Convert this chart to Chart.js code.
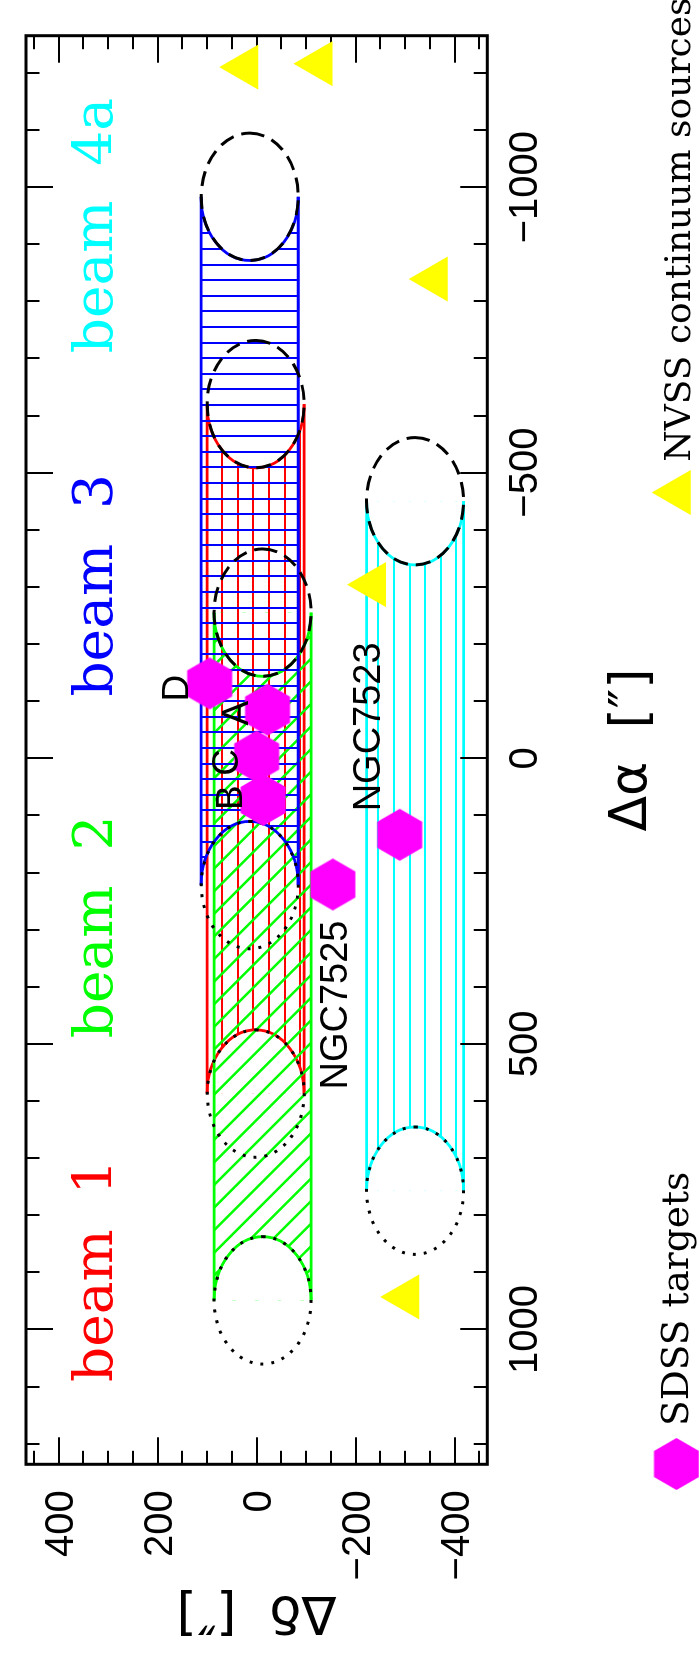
<!DOCTYPE html>
<html lang="en">
<head>
<meta charset="UTF-8" />
<title>beam coverage</title>
<style>
  html, body { margin: 0; padding: 0; background: #fff; }
  #wrap { position: relative; width: 699px; height: 1656px; overflow: hidden; }
  /* plot is drawn landscape, then turned a quarter left like the original page */
  #beams { position: absolute; left: 0; top: 0; transform-origin: 0 0; transform: translateY(1656px) rotate(-90deg); }
</style>
</head>
<body>
<div id="wrap"><canvas id="beams" width="1656" height="699"></canvas></div>
<script src="https://cdn.jsdelivr.net/npm/chart.js"></script>
<script>
// beams: centre dec and start / end RA offset of each drift ["]
const beamNames = ["beam  1", "beam  2", "beam  3", "beam  4a"];
const beamDec = [2, -12, 14, -320];
const beamRaStart = [587, 949, 222, 757];
const beamRaEnd = [-620, -255, -983, -450];
const beamRadiusRa = 111.5;
const beamRadiusDec = 98;
const beamLabelRa = [1092, 490, -108, -709];
const beamLabelDec = 293;

// SDSS targets
const sdssNames = ["D", "A", "C", "B", "NGC7525", "NGC7523"];
const sdssRa = [-131, -85, -3, 73, 221, 134];
const sdssDec = [95, -22, 0, -13, -154, -289];
const sdssLabelRa = [-123, -79, 7, 69, 432, -55];
const sdssLabelDec = [165, 45, 65, 57, -156, -222];

// NVSS continuum sources
const nvssRa = [-1210, -1216, -839, -304, 943];
const nvssDec = [23, -127, -360, -235, -302];

// axes
const raRange = [-1265, 1236];
const decRange = [-466, 466];
const raTicks = [1000, 500, 0, -500, -1000];
const decTicks = [400, 200, 0, -200, -400];
const raMinorStep = 100;
const decMinorStep = 50;

// styles
const beamColors = ["#ff0000", "#00ff00", "#0000ff", "#00ffff"];
const hatch = [
  { dir: "h", gap: 15.6, phase: 206.7 },
  { dir: "d", gap: 22.6, phase: 234.3 },
  { dir: "v", gap: 15.6, phase: 1422.7 },
  { dir: "h", gap: 15.6, phase: 378.3 },
];
const magenta = "#ff00ff";
const yellow = "#ffff00";
const fmt = (v) => (v < 0 ? "\u2212" + Math.abs(v) : String(v));

// hexagon marker (pointy ends along RA)
const hexImg = document.createElement("canvas");
hexImg.width = 54;
hexImg.height = 48;
(() => {
  const c = hexImg.getContext("2d");
  c.fillStyle = magenta;
  c.beginPath();
  for (let k = 0; k < 6; k++) {
    const a = (k * Math.PI) / 3;
    const X = 27 + 26 * Math.cos(a), Y = 24 + 26 * Math.sin(a);
    k ? c.lineTo(X, Y) : c.moveTo(X, Y);
  }
  c.closePath();
  c.fill();
})();

function capText(ctx, txt, x, y, size, family, color, align) {
  ctx.font = size + 'px "' + family + '"';
  ctx.fillStyle = color;
  ctx.textAlign = align;
  ctx.textBaseline = "alphabetic";
  ctx.fillText(txt, x, y + size * 0.358);
}

const beamPlugin = {
  id: "beams",
  beforeDatasetsDraw(chart) {
    const ctx = chart.ctx;
    const xs = chart.scales.x, ys = chart.scales.y;
    const px = (a) => xs.getPixelForValue(a);
    const py = (d) => ys.getPixelForValue(d);
    const rx = Math.abs(px(beamRadiusRa) - px(0));
    const ry = Math.abs(py(beamRadiusDec) - py(0));

    beamDec.forEach((dec, i) => {
      const x1 = px(beamRaStart[i]), x2 = px(beamRaEnd[i]), yc = py(dec);
      const t = yc - ry, b = yc + ry;
      const rect = new Path2D();
      rect.rect(x1, t, x2 - x1, b - t);
      const holes = new Path2D();
      holes.rect(x1, t, x2 - x1, b - t);
      holes.moveTo(x1 + rx, yc);
      holes.ellipse(x1, yc, rx, ry, 0, 0, 2 * Math.PI);
      holes.moveTo(x2 + rx, yc);
      holes.ellipse(x2, yc, rx, ry, 0, 0, 2 * Math.PI);

      const h = hatch[i];
      ctx.save();
      ctx.clip(rect);
      ctx.clip(holes, "evenodd");
      ctx.strokeStyle = beamColors[i];
      ctx.lineWidth = 2;
      ctx.beginPath();
      if (h.dir === "h") {
        for (let y = h.phase + Math.ceil((t - h.phase) / h.gap) * h.gap; y <= b; y += h.gap) {
          const Y = Math.round(y);
          ctx.moveTo(x1, Y); ctx.lineTo(x2, Y);
        }
      } else if (h.dir === "v") {
        for (let x = h.phase + Math.ceil((x1 - h.phase) / h.gap) * h.gap; x <= x2; x += h.gap) {
          const X = Math.round(x);
          ctx.moveTo(X, t); ctx.lineTo(X, b);
        }
      } else {
        ctx.lineWidth = 2.5;
        for (let c = h.phase + Math.ceil((x1 - b - h.phase) / h.gap) * h.gap; c <= x2 - t; c += h.gap) {
          ctx.moveTo(c + t, t); ctx.lineTo(c + b, b);
        }
      }
      ctx.stroke();
      ctx.restore();

      // outline of the swept strip
      ctx.save();
      ctx.strokeStyle = beamColors[i];
      ctx.lineWidth = 2.8;
      ctx.beginPath();
      ctx.moveTo(x1, t); ctx.lineTo(x2, t);
      ctx.moveTo(x1, b); ctx.lineTo(x2, b);
      ctx.stroke();
      ctx.beginPath();
      ctx.ellipse(x1, yc, rx, ry, 0, -Math.PI / 2, Math.PI / 2);
      ctx.stroke();
      ctx.beginPath();
      ctx.ellipse(x2, yc, rx, ry, 0, Math.PI / 2, (3 * Math.PI) / 2);
      ctx.stroke();
      ctx.restore();
    });

    // start beam dotted, end beam dashed
    ctx.save();
    ctx.strokeStyle = "#000";
    ctx.lineWidth = 3;
    beamDec.forEach((dec, i) => {
      ctx.setLineDash([3, 8]);
      ctx.beginPath();
      ctx.ellipse(px(beamRaStart[i]), py(dec), rx, ry, 0, 0, 2 * Math.PI);
      ctx.stroke();
      ctx.setLineDash([15, 8]);
      ctx.beginPath();
      ctx.ellipse(px(beamRaEnd[i]), py(dec), rx, ry, 0, 0, 2 * Math.PI);
      ctx.stroke();
    });
    ctx.restore();

    // frame with inward ticks on all sides
    const { left, right, top, bottom } = chart.chartArea;
    ctx.save();
    ctx.strokeStyle = "#000";
    ctx.lineWidth = 2;
    ctx.beginPath();
    for (let a = Math.ceil(raRange[0] / raMinorStep) * raMinorStep; a <= raRange[1]; a += raMinorStep) {
      const X = Math.round(px(a)), len = raTicks.includes(a) ? 27 : 13.5;
      ctx.moveTo(X, top); ctx.lineTo(X, top + len);
      ctx.moveTo(X, bottom); ctx.lineTo(X, bottom - len);
    }
    for (let d = Math.ceil(decRange[0] / decMinorStep) * decMinorStep; d <= decRange[1]; d += decMinorStep) {
      const Y = Math.round(py(d)), len = decTicks.includes(d) ? 27 : 13.5;
      ctx.moveTo(left, Y); ctx.lineTo(left + len, Y);
      ctx.moveTo(right, Y); ctx.lineTo(right - len, Y);
    }
    ctx.stroke();
    ctx.lineWidth = 3;
    ctx.strokeRect(left, top, right - left, bottom - top);
    ctx.restore();
  },

  afterDatasetsDraw(chart) {
    const ctx = chart.ctx;
    const xs = chart.scales.x, ys = chart.scales.y;
    const px = (a) => xs.getPixelForValue(a);
    const py = (d) => ys.getPixelForValue(d);
    const { left, right, top, bottom } = chart.chartArea;
    ctx.save();

    // tick labels
    raTicks.forEach((a) => capText(ctx, fmt(a), px(a), bottom + 35, 40, "Liberation Sans", "#000", "center"));
    decTicks.forEach((d) => capText(ctx, fmt(d), left - 26, py(d), 40, "Liberation Sans", "#000", "right"));

    // axis titles
    ctx.font = '52px "DejaVu Sans"';
    ctx.fillStyle = "#000";
    ctx.textAlign = "center";
    ctx.textBaseline = "alphabetic";
    ctx.fillText("\u0394\u03b1  [\u2033]", (left + right) / 2, bottom + 159);
    ctx.save();
    ctx.translate(59, (top + bottom) / 2);
    ctx.rotate(-Math.PI / 2);
    ctx.fillText("\u0394\u03b4  [\u2033]", 0, 0);
    ctx.restore();

    // beam names
    ctx.font = '55px "DejaVu Serif"';
    ctx.textAlign = "left";
    beamNames.forEach((n, i) => {
      ctx.fillStyle = beamColors[i];
      ctx.fillText(n, px(beamLabelRa[i]), py(beamLabelDec));
    });

    // target names
    sdssNames.forEach((n, i) => {
      const size = n.length > 1 ? 38 : 37;
      capText(ctx, n, px(sdssLabelRa[i]), py(sdssLabelDec[i]), size, "Liberation Sans", "#000", "center");
    });

    // legend
    ctx.drawImage(hexImg, 192 - hexImg.width / 2, 676.5 - hexImg.height / 2);
    ctx.font = '37.5px "DejaVu Serif"';
    ctx.fillStyle = "#000";
    ctx.textAlign = "left";
    ctx.fillText("SDSS targets", 230, 688.3);

    const tx = 1163.5, ty = 677.7, r = 26;
    ctx.fillStyle = yellow;
    ctx.beginPath();
    ctx.moveTo(tx, ty - r);
    ctx.lineTo(tx + r * Math.sin((2 * Math.PI) / 3), ty + r / 2);
    ctx.lineTo(tx - r * Math.sin((2 * Math.PI) / 3), ty + r / 2);
    ctx.closePath();
    ctx.fill();
    ctx.font = '36px "DejaVu Serif"';
    ctx.fillStyle = "#000";
    ctx.fillText("NVSS continuum sources", 1194.3, 690);
    ctx.restore();
  },
};

new Chart(document.getElementById("beams"), {
  type: "scatter",
  data: {
    datasets: [
      {
        label: "SDSS targets",
        data: sdssRa.map((a, i) => ({ x: a, y: sdssDec[i] })),
        pointStyle: hexImg,
        pointRadius: 26,
        borderWidth: 0,
        clip: false,
      },
      {
        label: "NVSS continuum sources",
        data: nvssRa.map((a, i) => ({ x: a, y: nvssDec[i] })),
        pointStyle: "triangle",
        pointRadius: 26,
        backgroundColor: yellow,
        borderWidth: 0,
        clip: false,
      },
    ],
  },
  options: {
    responsive: false,
    animation: false,
    devicePixelRatio: 1,
    events: [],
    layout: { padding: { left: 191.7, right: 35.7, top: 10.7, bottom: 211.7 } },
    scales: {
      x: { type: "linear", min: raRange[0], max: raRange[1], reverse: true, display: false },
      y: { type: "linear", min: decRange[0], max: decRange[1], display: false },
    },
    plugins: { legend: { display: false }, tooltip: { enabled: false } },
  },
  plugins: [beamPlugin],
});
</script>
</body>
</html>
